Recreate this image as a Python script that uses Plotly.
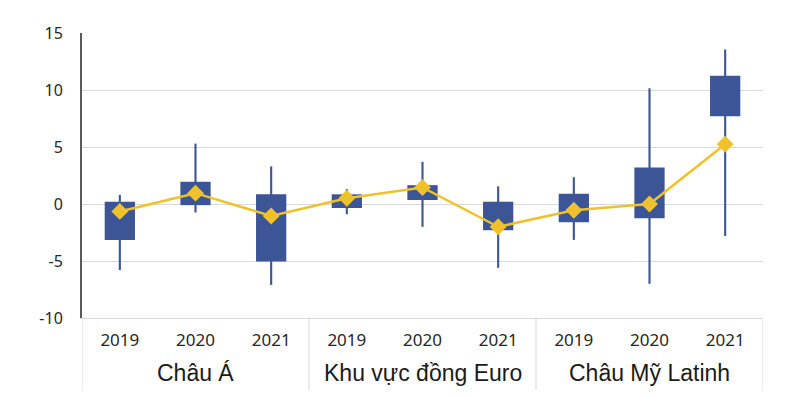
import plotly.graph_objects as go

group_names = ["Châu Á", "Khu vực đồng Euro", "Châu Mỹ Latinh"]
year_labels = ["2019", "2020", "2021"]
groups = [g for g in group_names for _ in year_labels]
years = year_labels * len(group_names)

box_low = [-3.15, -0.1, -5.05, -0.35, 0.35, -2.3, -1.6, -1.25, 7.7]
box_high = [0.2, 1.95, 0.85, 0.85, 1.65, 0.2, 0.9, 3.2, 11.25]
whisker_low = [-5.8, -0.75, -7.1, -0.9, -2.0, -5.6, -3.15, -7.0, -2.8]
whisker_high = [0.8, 5.3, 3.3, 1.3, 3.7, 1.55, 2.35, 10.15, 13.55]
mid = [-0.65, 0.95, -1.05, 0.5, 1.45, -2.0, -0.55, 0.0, 5.25]

y_tickvals = [-10, -5, 0, 5, 10, 15]
y_ticktext = ["-10", "-5", "0", "5", "10", "15"]

blue = "#3B5597"
yellow = "#EFC12B"
grid = "#D9D9D9"

idx = list(range(len(years)))
n_per = len(year_labels)

fig = go.Figure()
fig.add_trace(go.Bar(
    x=idx, y=[h - l for h, l in zip(whisker_high, whisker_low)], base=whisker_low,
    width=0.028, marker=dict(color=blue, line=dict(width=0)), showlegend=False,
    hoverinfo="skip"))
fig.add_trace(go.Bar(
    x=idx, y=[h - l for h, l in zip(box_high, box_low)], base=box_low,
    width=0.4, marker=dict(color=blue, line=dict(width=0)), showlegend=False,
    hoverinfo="skip"))
fig.add_trace(go.Scatter(
    x=idx, y=mid, mode="lines+markers",
    line=dict(color=yellow, width=2.5),
    marker=dict(symbol="diamond", size=13, color=yellow),
    showlegend=False))

# group labels and dividers
for gi, g in enumerate(group_names):
    center = gi * n_per + (n_per - 1) / 2
    fig.add_annotation(x=center, xref="x", y=-0.193, yref="paper",
                       text=g, showarrow=False, yanchor="middle",
                       font=dict(family="Liberation Sans, Arial", size=23, color="#1a1a1a"))
for b in range(len(group_names) + 1):
    xb = b * n_per - 0.5
    fig.add_shape(type="line", xref="x", yref="paper", x0=xb, x1=xb, y0=0, y1=-0.253,
                  line=dict(color=grid, width=1))

# page body adds 8px margin; size figure to fit the window
fig.update_layout(
    width=771, height=382,
    margin=dict(l=74, r=16, t=25, b=72, autoexpand=False),
    barmode="overlay",
    plot_bgcolor="white", paper_bgcolor="white",
    font=dict(family="Noto Sans, DejaVu Sans", size=14, color="#262626"),
)
fig.update_xaxes(
    range=[-0.5, len(years) - 0.5], tickvals=idx, ticktext=years, automargin=False,
    showline=True, linecolor=grid, linewidth=1,
    showgrid=False, zeroline=False, ticks="", ticklabelstandoff=7,
    tickfont=dict(family="Noto Sans, DejaVu Sans", size=17, color="#262626"),
)
fig.update_yaxes(
    range=[-10, 15], tickvals=y_tickvals, ticktext=y_ticktext, automargin=False,
    showgrid=True, gridcolor=grid, gridwidth=1.2,
    zeroline=False,
    showline=True, linecolor="#595959", linewidth=2,
    ticks="", ticklabelstandoff=14,
    tickfont=dict(family="Noto Sans, DejaVu Sans", size=16, color="#262626"),
)

fig.write_html("out.html")
